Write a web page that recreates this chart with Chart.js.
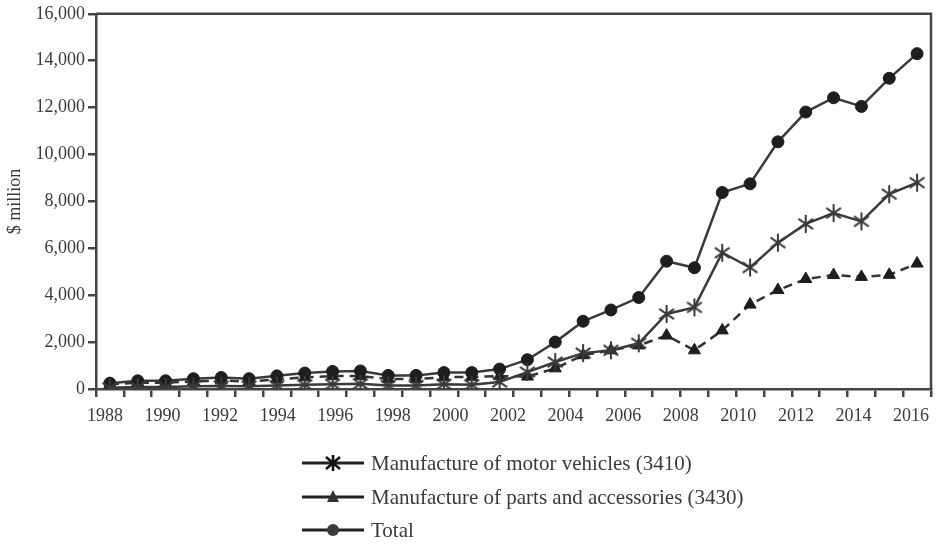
<!DOCTYPE html>
<html>
<head>
<meta charset="utf-8">
<script src="https://cdn.jsdelivr.net/npm/chart.js@4/dist/chart.umd.min.js"></script>
<style>
  html, body { margin: 0; padding: 0; background: #fff; }
  #wrap { position: relative; width: 939px; height: 544px; }
  #chart { position: absolute; left: 0; top: 0; }
  .leg { position: absolute; left: 302px; height: 28px; display: flex; align-items: center;
         font-family: 'Liberation Serif', 'Times New Roman', serif; font-size: 21px; color: #3a3a3a; }
  .leg svg { margin-right: 5px; }
</style>
</head>
<body>
<div id="wrap">
  <canvas id="chart" width="939" height="544"></canvas>
  <div class="leg" style="top:449px">
    <svg width="64" height="20"><line x1="0" y1="10" x2="62" y2="10" stroke="#222" stroke-width="3"/>
      <g stroke="#111" stroke-width="2.6"><line x1="31" y1="2" x2="31" y2="18"/><line x1="24" y1="4" x2="38" y2="16"/><line x1="38" y1="4" x2="24" y2="16"/></g></svg>
    <span>Manufacture of motor vehicles (3410)</span>
  </div>
  <div class="leg" style="top:483px">
    <svg width="64" height="20"><line x1="0" y1="10" x2="62" y2="10" stroke="#222" stroke-width="3"/>
      <polygon points="31,3 37,15 25,15" fill="#333"/></svg>
    <span>Manufacture of parts and accessories (3430)</span>
  </div>
  <div class="leg" style="top:516px">
    <svg width="64" height="20"><line x1="0" y1="10" x2="62" y2="10" stroke="#222" stroke-width="3"/>
      <circle cx="31" cy="10" r="6" fill="#3a3a3a"/></svg>
    <span>Total</span>
  </div>
</div>
<script>
const anos = [1988, 1989, 1990, 1991, 1992, 1993, 1994, 1995, 1996, 1997, 1998, 1999, 2000, 2001, 2002,
              2003, 2004, 2005, 2006, 2007, 2008, 2009, 2010, 2011, 2012, 2013, 2014, 2015, 2016, 2017];
const motorVehicles = [50, 80, 80, 120, 130, 120, 150, 180, 200, 220, 150, 150, 200, 180, 300,
                       720, 1150, 1530, 1650, 1950, 3200, 3480, 5810, 5180, 6240, 7040, 7500, 7150, 8310, 8800];
const partsAccessories = [200, 270, 270, 320, 360, 320, 410, 500, 550, 550, 430, 430, 500, 520, 550,
                          530, 880, 1440, 1650, 1860, 2280, 1650, 2500, 3600, 4220, 4690, 4860, 4780, 4870, 5350];
const total = [250, 350, 350, 440, 490, 440, 560, 680, 750, 770, 580, 580, 700, 700, 850,
               1250, 2000, 2890, 3370, 3900, 5450, 5170, 8380, 8750, 10540, 11810, 12420, 12050, 13250, 14300];
const anosRotulo = [1988, 1990, 1992, 1994, 1996, 1998, 2000, 2002, 2004, 2006, 2008, 2010, 2012, 2014, 2016];
const eixoY = [0, 2000, 4000, 6000, 8000, 10000, 12000, 14000, 16000];

const corEixo = '#444';
const fonte = { family: "'Liberation Serif', 'Times New Roman', serif", size: 18 };

// asterisco de 6 pontas para a série de veículos
const asterisco = document.createElement('canvas');
asterisco.width = 20; asterisco.height = 20;
const a = asterisco.getContext('2d');
a.strokeStyle = '#3a3a3a';
a.lineWidth = 2;
[90, 35, 145].forEach(g => {
    const r = g * Math.PI / 180;
    a.beginPath();
    a.moveTo(10 - 9 * Math.cos(r), 10 - 9 * Math.sin(r));
    a.lineTo(10 + 9 * Math.cos(r), 10 + 9 * Math.sin(r));
    a.stroke();
});

// moldura superior e direita
const moldura = {
    id: 'moldura',
    afterDraw(chart) {
        const { ctx, chartArea: c } = chart;
        ctx.save();
        ctx.strokeStyle = corEixo;
        ctx.lineWidth = 2.5;
        ctx.beginPath();
        ctx.moveTo(c.left, c.top);
        ctx.lineTo(c.right, c.top);
        ctx.lineTo(c.right, c.bottom);
        ctx.stroke();
        ctx.restore();
    }
};

Chart.defaults.font = fonte;
Chart.defaults.color = '#3a3a3a';

const ctx = document.getElementById('chart').getContext('2d');

new Chart(ctx, {
    type: 'line',
    data: {
        labels: anos,
        datasets: [{
            label: 'Manufacture of motor vehicles (3410)',
            data: motorVehicles,
            borderColor: '#3a3a3a',
            borderWidth: 2.5,
            pointStyle: asterisco,
            tension: 0
        }, {
            label: 'Manufacture of parts and accessories (3430)',
            data: partsAccessories,
            borderColor: '#333',
            borderWidth: 2.5,
            borderDash: [9, 6],
            pointStyle: 'triangle',
            pointRadius: 7,
            pointBackgroundColor: '#1e1e1e',
            pointBorderColor: '#1e1e1e',
            pointBorderWidth: 1,
            tension: 0
        }, {
            label: 'Total',
            data: total,
            borderColor: '#3a3a3a',
            borderWidth: 2.5,
            pointStyle: 'circle',
            pointRadius: 6,
            pointBackgroundColor: '#1e1e1e',
            pointBorderColor: '#1e1e1e',
            pointBorderWidth: 1,
            tension: 0
        }]
    },
    options: {
        responsive: false,
        animation: false,
        layout: { padding: { top: 11, right: 4, left: 0, bottom: 0 } },
        plugins: { legend: { display: false }, tooltip: { enabled: false } },
        scales: {
            x: {
                type: 'category',
                offset: true,
                weight: 0,
                grid: { offset: true, drawOnChartArea: false, color: corEixo, lineWidth: 2.5, tickLength: 8 },
                border: { color: corEixo, width: 2.5 },
                ticks: { display: false }
            },
            xl: {
                type: 'linear',
                position: 'bottom',
                weight: 1,
                min: 1987.689,
                max: 2016.691,
                grid: { display: false, drawTicks: false },
                border: { display: false },
                afterBuildTicks: (eixo) => { eixo.ticks = anosRotulo.map(v => ({ value: v })); },
                afterFit: (eixo) => { eixo.height = 544 - 389 - 8; },
                ticks: { autoSkip: false, maxRotation: 0, padding: 8, callback: (v) => String(v) }
            },
            y: {
                min: 0,
                max: 16000,
                afterBuildTicks: (eixo) => { eixo.ticks = eixoY.map(v => ({ value: v })); },
                afterFit: (eixo) => { eixo.width = 96; },
                grid: { drawOnChartArea: false, color: corEixo, lineWidth: 2.5, tickLength: 8 },
                border: { color: corEixo, width: 2.5 },
                ticks: { padding: 3, callback: (v) => v.toLocaleString('en-US') },
                title: { display: true, text: '$ million', padding: { top: 4, bottom: 4 } }
            }
        }
    },
    plugins: [moldura]
});
</script>
</body>
</html>
